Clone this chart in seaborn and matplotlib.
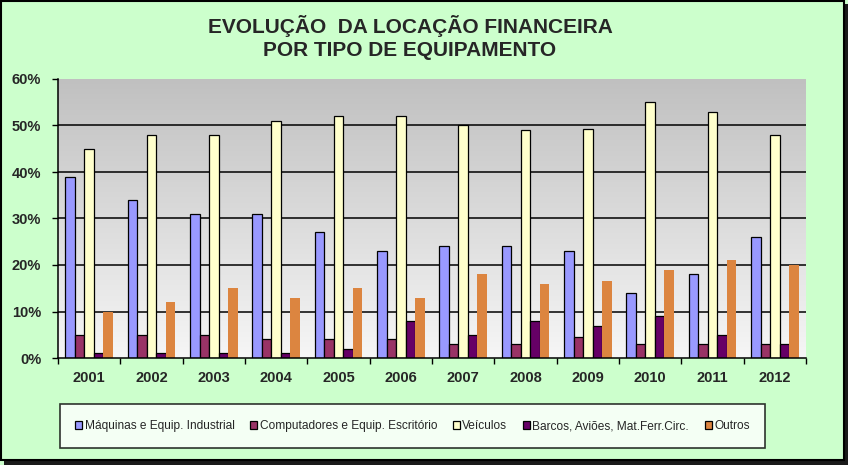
import numpy as np
import pandas as pd
import matplotlib
matplotlib.use("Agg")
import matplotlib.pyplot as plt
from matplotlib.patches import Rectangle
from matplotlib.ticker import FixedLocator, FuncFormatter
from matplotlib.colors import LinearSegmentedColormap
import seaborn as sns

years = ["2001", "2002", "2003", "2004", "2005", "2006", "2007", "2008", "2009", "2010", "2011", "2012"]
maquinas = [39, 34, 31, 31, 27, 23, 24, 24, 23, 14, 18, 26]
computadores = [5, 5, 5, 4, 4, 4, 3, 3, 4.6, 3, 3, 3]
veiculos = [45, 48, 48, 51, 52, 52, 50, 49, 49.2, 55, 53, 48]
barcos = [1, 1, 1, 1, 2, 8, 5, 8, 6.9, 9, 5, 3]
outros = [10, 12, 15, 13, 15, 13, 18, 16, 16.6, 19, 21, 20]
series_names = ["Máquinas e Equip. Industrial", "Computadores e Equip. Escritório",
                "Veículos", "Barcos, Aviões, Mat.Ferr.Circ.", "Outros"]
colors = ["#9999FF", "#993366", "#FFFFCC", "#660066", "#DC8540"]
yticks = [0, 10, 20, 30, 40, 50, 60]

rows = []
for name, vals in zip(series_names, [maquinas, computadores, veiculos, barcos, outros]):
    for y, v in zip(years, vals):
        rows.append({"Ano": y, "Valor": v, "Tipo": name})
df = pd.DataFrame(rows)

sns.set_style("white")
plt.rcParams["font.family"] = ["Liberation Sans", "DejaVu Sans"]

fig = plt.figure(figsize=(8.48, 4.65), dpi=100)
fig.patch.set_facecolor("#CCFFCC")
W, H = 848, 465
# shadow + border
fig.patches.append(Rectangle((4 / W, 0), 844 / W, 461 / H, transform=fig.transFigure,
                             facecolor="#1a1a1a", edgecolor="none", zorder=-3))
fig.patches.append(Rectangle((1 / W, 5 / H), 843 / W, 459 / H, transform=fig.transFigure,
                             facecolor="#CCFFCC", edgecolor="black", linewidth=1.5, zorder=-2))

ax = fig.add_axes([58 / W, (H - 358) / H, 748 / W, 279 / H])
ax.set_facecolor("none")

# gradient background (light at bottom, gray at top)
grad = np.linspace(0, 1, 256).reshape(-1, 1)
cmap = LinearSegmentedColormap.from_list("g", ["#F6F6F6", "#C0C0C0"])
ax.imshow(grad, aspect="auto", cmap=cmap, extent=[-0.5, 11.5, 0, 60], zorder=0, origin="lower")

sns.barplot(data=df, x="Ano", y="Valor", hue="Tipo", palette=colors, width=0.766, gap=0,
            edgecolor="black", linewidth=0.9, ax=ax, zorder=3, saturation=1)
for c in ax.containers[4:5]:
    for p in c:
        p.set_edgecolor("none")

ax.set_xlim(-0.5, 11.5)
ax.set_ylim(0, 60)
for v in yticks[1:-1]:
    ax.axhline(v, color="black", linewidth=1.1, zorder=1)

ax.set_yticks(yticks)
ax.yaxis.set_major_formatter(FuncFormatter(lambda v, p: f"{v:.0f}%"))
ax.tick_params(axis="y", direction="out", length=4, width=1, color="black", left=True, pad=8,
               labelsize=10.5)
ax.tick_params(axis="x", which="major", length=0, pad=9, labelsize=10.5)
ax.xaxis.set_minor_locator(FixedLocator(np.arange(-0.5, 12, 1)))
ax.tick_params(axis="x", which="minor", direction="out", length=4, width=1, color="black", bottom=True)
for lab in ax.get_xticklabels() + ax.get_yticklabels():
    lab.set_fontweight("bold")
ax.set_xlabel("")
ax.set_ylabel("")
for s in ["top", "right"]:
    ax.spines[s].set_visible(False)
for s in ["left", "bottom"]:
    ax.spines[s].set_color("black")
    ax.spines[s].set_linewidth(1.1)
    ax.spines[s].set_zorder(5)

handles, labels = ax.get_legend_handles_labels()
ax.get_legend().remove()
leg = fig.legend(handles, labels, loc="center", ncol=5,
                 bbox_to_anchor=(412.5 / W, (H - 426) / H),
                 frameon=True, fancybox=False, edgecolor="black", facecolor="white",
                 fontsize=8.6, handlelength=0.6, handleheight=0.6, handletextpad=0.2,
                 columnspacing=1.3, borderpad=1.3, borderaxespad=0)
leg.get_frame().set_linewidth(1.2)

fig.text(410 / W, (H - 26) / H, "EVOLUÇÃO  DA LOCAÇÃO FINANCEIRA", ha="center", va="center",
         fontsize=15, fontweight="bold")
fig.text(410 / W, (H - 50) / H, "POR TIPO DE EQUIPAMENTO", ha="center", va="center",
         fontsize=15, fontweight="bold")

fig.savefig("out.png", dpi=100, facecolor=fig.get_facecolor())
